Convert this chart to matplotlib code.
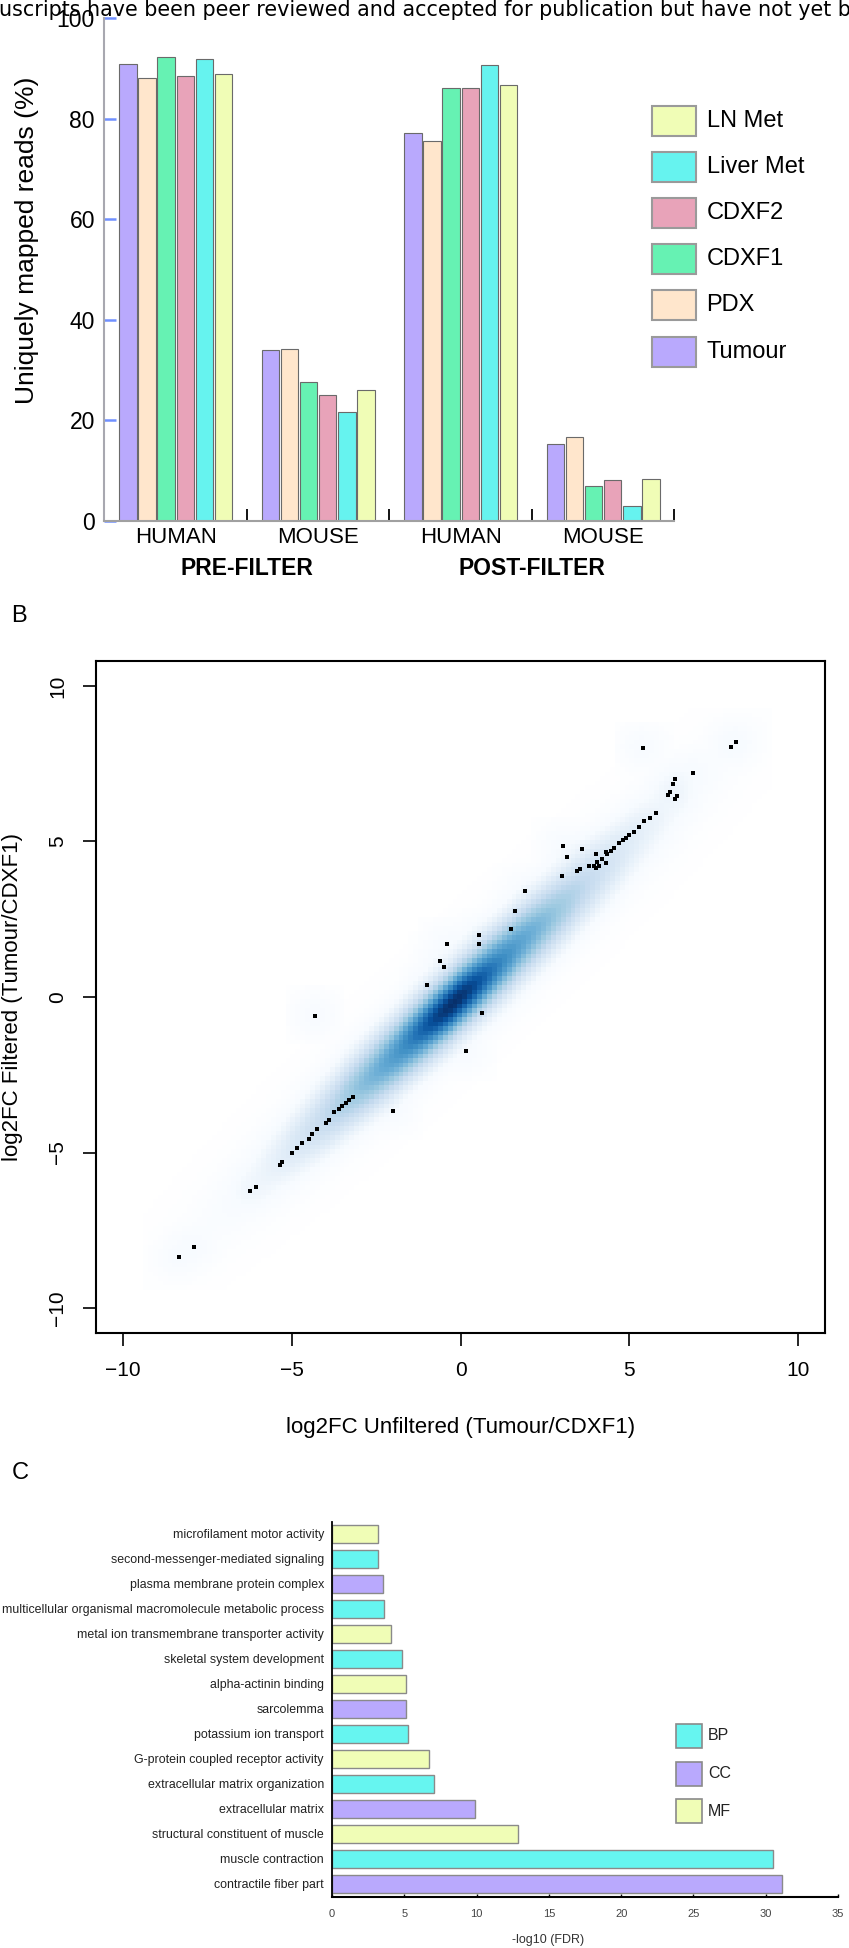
import numpy as np
import matplotlib
matplotlib.use('Agg')
import matplotlib.pyplot as plt
from matplotlib.patches import Rectangle
from matplotlib.colors import LinearSegmentedColormap
import matplotlib.transforms as mtransforms

plt.rcParams['font.family'] = ['Liberation Sans', 'DejaVu Sans']

W, H, DPI = 849, 1948, 100

# ---------------- Panel A data ----------------
sample_names = ['Tumour', 'PDX', 'CDXF1', 'CDXF2', 'Liver Met', 'LN Met']
group_labels = ['HUMAN', 'MOUSE', 'HUMAN', 'MOUSE']
filter_labels = ['PRE-FILTER', 'POST-FILTER']
tumour = [90.8, 34.0, 77.2, 15.4]
pdx = [88.1, 34.2, 75.5, 16.7]
cdxf1 = [92.3, 27.7, 86.1, 7.0]
cdxf2 = [88.4, 25.0, 86.1, 8.1]
liver_met = [91.8, 21.7, 90.7, 3.0]
ln_met = [88.9, 26.1, 86.6, 8.3]
a_yticks = [0, 20, 40, 60, 80, 100]

# ---------------- Panel B data ----------------
pts_x = [5.4, 8.0, 8.15, 6.9, 6.35, 6.3, 6.2, 6.4, 6.15, 6.35,
         5.8, 5.6, 5.45, 5.3, 5.15, 5.0, 4.9, 4.8, 4.7, 4.55, 4.45, 4.35, 4.2, 4.05,
         3.95, 3.8, 3.55, 3.45, 4.0, 4.1, 4.3, 3.0, 3.05, 3.15, 3.6, 4.0, 4.3,
         1.9, 1.6, 1.5, 0.55, 0.55, -0.4, -0.6, -0.5, -1.0, 0.65, 0.15, -2.0, -4.3,
         -3.2, -3.3, -3.4, -3.5, -3.6, -3.75, -3.9, -4.0, -4.25, -4.4, -4.5, -4.7,
         -4.85, -5.0, -5.3, -5.35, -6.05, -6.25, -7.9, -8.33]
pts_y = [8.0, 8.05, 8.2, 7.2, 7.0, 6.85, 6.6, 6.45, 6.5, 6.35,
         5.9, 5.75, 5.65, 5.45, 5.3, 5.2, 5.1, 5.05, 4.95, 4.8, 4.7, 4.6, 4.45, 4.35,
         4.2, 4.2, 4.1, 4.05, 4.15, 4.2, 4.3, 3.9, 4.85, 4.5, 4.75, 4.6, 4.65,
         3.4, 2.75, 2.2, 2.0, 1.7, 1.7, 1.15, 0.95, 0.4, -0.5, -1.75, -3.65, -0.6,
         -3.2, -3.3, -3.4, -3.5, -3.6, -3.7, -3.95, -4.05, -4.25, -4.4, -4.55, -4.7,
         -4.85, -5.0, -5.3, -5.4, -6.1, -6.25, -8.03, -8.36]
# main density cloud along the diagonal, read from the shading
cloud_cx = [-0.2, -0.2, 0.0]
cloud_cy = [-0.2, -0.2, 0.0]
cloud_amp = [1.0, 0.35, 0.06]
cloud_sd_along = [0.6, 1.45, 1.9]     # in x units along the diagonal
cloud_sd_across = [0.22, 0.30, 0.38]  # perpendicular distance
b_ticks = [-10, -5, 0, 5, 10]

# ---------------- Panel C data ----------------
go_terms = ['microfilament motor activity', 'second-messenger-mediated signaling',
            'plasma membrane protein complex',
            'multicellular organismal macromolecule metabolic process',
            'metal ion transmembrane transporter activity', 'skeletal system development',
            'alpha-actinin binding', 'sarcolemma', 'potassium ion transport',
            'G-protein coupled receptor activity', 'extracellular matrix organization',
            'extracellular matrix', 'structural constituent of muscle',
            'muscle contraction', 'contractile fiber part']
go_values = [3.18, 3.2, 3.51, 3.59, 4.08, 4.86, 5.12, 5.12, 5.24, 6.73, 7.03,
             9.91, 12.87, 30.53, 31.16]
go_category = ['MF', 'BP', 'CC', 'BP', 'MF', 'BP', 'MF', 'CC', 'BP', 'MF', 'BP',
               'CC', 'MF', 'BP', 'CC']
go_legend = ['BP', 'CC', 'MF']
c_xticks = [0, 5, 10, 15, 20, 25, 30, 35]

# ---------------- styles ----------------
sample_colors = ['#b9a9fd', '#ffe6cc', '#66f2b3', '#e8a3b9', '#66f3ef', '#f0fdb6']
cat_colors = {'BP': '#66f5f0', 'CC': '#b9a9fd', 'MF': '#f0fdb6'}

fig = plt.figure(figsize=(W / DPI, H / DPI), dpi=DPI)


def px_axes(l, t, r, b, **kw):
    return fig.add_axes([l / W, 1 - b / H, (r - l) / W, (b - t) / H], **kw)


ov = fig.add_axes([0, 0, 1, 1], zorder=10)
ov.set_xlim(0, W)
ov.set_ylim(H, 0)
ov.axis('off')

# watermark line (cut at both page edges) - fitted to the page width
wm = ov.text(-1, 16, 'uscripts have been peer reviewed and accepted for publication but have not yet b',
             fontsize=15, ha='left', va='baseline', color='black', family='DejaVu Sans')
fig.canvas.draw()
_w = wm.get_window_extent(renderer=fig.canvas.get_renderer()).width
wm.set_fontsize(15 * 852 / _w)

# ================= Panel A =================
axA = px_axes(104, 18, 674, 521)
G = 7.45
series = [tumour, pdx, cdxf1, cdxf2, liver_met, ln_met]
for i, (vals, col) in enumerate(zip(series, sample_colors)):
    xs = [g * G + i for g in range(len(vals))]
    axA.bar(xs, vals, width=0.91, color=col, edgecolor='#6a6a6a', linewidth=0.8, zorder=2)
axA.set_xlim(-1.25, -1.25 + 4 * G)
axA.set_ylim(0, 100)
for s in ['top', 'right']:
    axA.spines[s].set_visible(False)
axA.spines['left'].set_color('#a8a8b0')
axA.spines['left'].set_linewidth(1.5)
axA.spines['bottom'].set_color('#a0a0a0')
axA.spines['bottom'].set_linewidth(1.5)
axA.set_yticks(a_yticks)
axA.tick_params(axis='y', direction='in', length=8.5, width=1.8, color='#7090ff',
                pad=6.5, labelsize=16.5)
axA.set_xticks([g * G + 2.5 for g in range(4)])
axA.set_xticklabels(group_labels)
axA.tick_params(axis='x', which='major', length=0, pad=4.5, labelsize=16)
bounds = [-1.25 + k * G for k in range(5)]
axA.set_xticks(bounds, minor=True)
axA.tick_params(axis='x', which='minor', direction='in', length=9, width=1.3)
for t, c in zip(axA.xaxis.get_minor_ticks(), ['#7090ff', '#a8a8a8', '#a8a8a8', '#7090ff', '#7090ff']):
    t.tick1line.set_color(c)
bt = mtransforms.blended_transform_factory(axA.transData, fig.transFigure)
for k, lab in enumerate(filter_labels):
    xc = (2 * k * G + 2.5 + (2 * k + 1) * G + 2.5) / 2
    axA.text(xc, 1 - 568.5 / H, lab, transform=bt, ha='center', va='center',
             fontsize=16.5, fontweight='bold')
ov.text(27, 240, 'Uniquely mapped reads (%)', rotation=90, ha='center', va='center', fontsize=19)
# legend
for k, idx in enumerate(reversed(range(len(sample_names)))):
    yc = 120.6 + k * 46.2
    ov.add_patch(Rectangle((652.4, yc - 15), 43.3, 30, facecolor=sample_colors[idx],
                           edgecolor='#9a9a9a', linewidth=1.5))
    ov.text(706.6, yc, sample_names[idx], ha='left', va='center', fontsize=17)

# ================= Panel B =================
ov.text(19, 616, 'B', fontsize=17, ha='center', va='center')
axB = px_axes(96, 661, 825, 1333)
px_ = np.array(pts_x)
py_ = np.array(pts_y)
nb = 128
gx = np.linspace(px_.min() - 1.0, px_.max() + 1.0, nb)
gy = np.linspace(py_.min() - 1.0, py_.max() + 1.0, nb)
XX, YY = np.meshgrid(gx, gy)
D = np.zeros_like(XX)
for cx, cy, a, sa, sc in zip(cloud_cx, cloud_cy, cloud_amp, cloud_sd_along, cloud_sd_across):
    dx = XX - cx
    dy = YY - cy
    along = (dx + dy) / 2.0          # in x units along the diagonal
    across = (dy - dx) / np.sqrt(2)
    D += a * np.exp(-along ** 2 / (2 * sa ** 2) - across ** 2 / (2 * sc ** 2))
h = 0.3
for x0, y0 in zip(pts_x, pts_y):
    kx = np.exp(-(XX - x0) ** 2 / (2 * h ** 2)) * (np.abs(XX - x0) < 3 * h)
    ky = np.exp(-(YY - y0) ** 2 / (2 * h ** 2)) * (np.abs(YY - y0) < 3 * h)
    D += 1.4e-4 * kx * ky
L = (D / D.max()) ** 0.25
blues9 = ['#FFFFFF', '#F7FBFF', '#DEEBF7', '#C6DBEF', '#9ECAE1', '#6BAED6', '#4292C6',
          '#2171B5', '#08519C', '#08306B']
cmap = LinearSegmentedColormap.from_list('rblues', blues9, N=256)
dxg = gx[1] - gx[0]
dyg = gy[1] - gy[0]
axB.imshow(L, origin='lower', cmap=cmap, vmin=0, vmax=1, interpolation='nearest',
           extent=[gx[0] - dxg / 2, gx[-1] + dxg / 2, gy[0] - dyg / 2, gy[-1] + dyg / 2],
           aspect='auto', zorder=1)
axB.scatter(pts_x, pts_y, marker='s', s=12, c='black', linewidths=0, zorder=3)
axB.set_xlim(-10.8, 10.8)
axB.set_ylim(-10.8, 10.8)
axB.set_xticks(b_ticks)
axB.set_yticks(b_ticks)
axB.set_xticklabels([str(t).replace('-', '\u2212') for t in b_ticks])
axB.set_yticklabels([str(t).replace('-', '\u2212') for t in b_ticks], rotation=90, va='center')
axB.tick_params(direction='out', length=9.4, width=1.2, labelsize=15)
axB.tick_params(axis='x', pad=11)
axB.tick_params(axis='y', pad=11.5)
for s in axB.spines.values():
    s.set_linewidth(1.5)
ov.text(460.5, 1427, 'log2FC Unfiltered (Tumour/CDXF1)', fontsize=16, ha='center', va='center')
ov.text(13, 997, 'log2FC Filtered (Tumour/CDXF1)', fontsize=16, ha='center', va='center',
        rotation=90)

# ================= Panel C =================
ov.text(20, 1473, 'C', fontsize=17, ha='center', va='center')
axC = px_axes(332, 1521.7, 838, 1896.7)
n = len(go_terms)
ypos = [n - 1 - i for i in range(n)]
axC.barh(ypos, go_values, height=0.7, color=[cat_colors[c] for c in go_category],
         edgecolor='#8a8a8a', linewidth=1.0, zorder=2)
axC.set_ylim(-0.51, n - 0.51)
axC.set_xlim(0, 35)
axC.set_xticks(c_xticks)
axC.set_yticks(ypos)
axC.set_yticklabels(go_terms)
axC.tick_params(axis='y', length=0, pad=5.8, labelsize=8.9, labelcolor='#222222')
axC.tick_params(axis='x', direction='in', length=2.5, width=1.0, pad=9, labelsize=8,
                labelcolor='#444444')
axC.set_xticks([35], minor=True)
axC.tick_params(axis='x', which='minor', direction='in', length=6.5, width=1.0)
for s in ['top', 'right']:
    axC.spines[s].set_visible(False)
axC.spines['left'].set_linewidth(1.3)
axC.spines['bottom'].set_linewidth(1.5)
ov.text(548, 1940, '-log10 (FDR)', fontsize=9, ha='center', va='center', color='#333333')
leg_y = [1736, 1774, 1811]
for lab, yc in zip(go_legend, leg_y):
    ov.add_patch(Rectangle((676.5, yc - 12), 26, 24, facecolor=cat_colors[lab],
                           edgecolor='#8a8a8a', linewidth=1.2))
    ov.text(708, yc, lab, ha='left', va='center', fontsize=11.5, color='#222222')

fig.savefig('out.png', dpi=DPI)
